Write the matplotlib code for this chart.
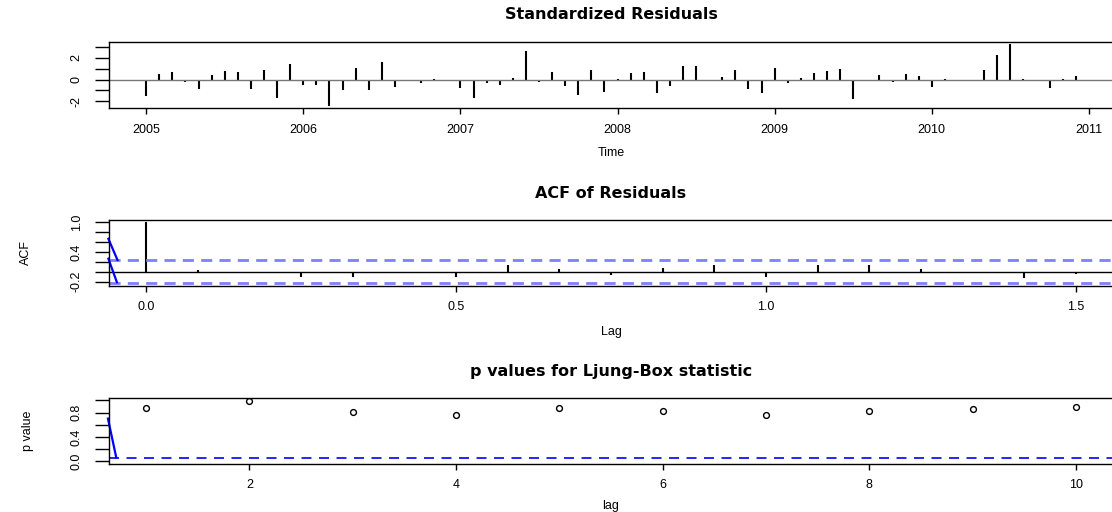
import matplotlib
matplotlib.use("Agg")
import matplotlib.pyplot as plt
import numpy as np

plt.rcParams['font.family'] = ['Liberation Sans', 'DejaVu Sans']

# standardized residuals, monthly Jan 2005 .. Dec 2010
stdres = [-1.5, 0.5, 0.7, -0.2, -0.9, 0.42, 0.8, 0.7, -0.88, 0.88, -1.7, 1.4,
          -0.48, -0.48, -2.4, -1.0, 1.03, -1.0, 1.58, -0.64, -0.08, -0.3, 0.02, -0.05,
          -0.8, -1.67, -0.3, -0.48, 0.1, 2.6, -0.2, 0.7, -0.58, -1.42, 0.88, -1.15,
          0.05, 0.64, 0.7, -1.24, -0.58, 1.24, 1.24, -0.15, 0.27, 0.88, -0.88, -1.24,
          1.06, -0.27, 0.18, 0.64, 0.82, 1.0, -1.76, 0.0, 0.42, -0.2, 0.52, 0.3,
          -0.7, 0.05, -0.05, -0.05, 0.9, 2.2, 3.23, 0.05, -0.05, -0.73, 0.05, 0.36]
start_year = 2005
year_ticks = [2005, 2006, 2007, 2008, 2009, 2010, 2011]

# ACF of residuals, lag in years (lag k = k/12)
acf_vals = [1.0, 0.026, 0.0, -0.10, -0.10, -0.025, -0.10, 0.146, 0.046, -0.066,
            0.066, 0.146, -0.10, 0.146, 0.146, 0.046, -0.026, -0.12, -0.046]
clim = 0.231
acf_xticks = [0.0, 0.5, 1.0, 1.5]

# Ljung-Box p values
lb_lags = [1, 2, 3, 4, 5, 6, 7, 8, 9, 10]
lb_p = [0.88, 0.99, 0.815, 0.765, 0.88, 0.83, 0.754, 0.83, 0.864, 0.897]
p_xticks = [2, 4, 6, 8, 10]

# stray blue strokes at the left edge of the lower panels
acf_stroke1_x = [-0.061, -0.0463]
acf_stroke1_y = [0.668, 0.237]
acf_stroke2_x = [-0.061, -0.0473]
acf_stroke2_y = [0.264, -0.213]
p_stroke_x = [0.63, 0.71]
p_stroke_y = [0.70, 0.06]

W, H = 1112, 512
fig = plt.figure(figsize=(W / 100, H / 100), dpi=100)

title_font = dict(fontsize=11.5, fontweight='bold', family=['DejaVu Sans'])


def box(left, top, right, bottom):
    return [left / W, 1 - bottom / H, (right - left) / W, (bottom - top) / H]


def style(ax):
    for s in ax.spines.values():
        s.set_linewidth(1.0)
        s.set_color('black')
    ax.tick_params(axis='x', direction='out', length=4.3, width=1.0, pad=7, labelsize=9)
    ax.tick_params(axis='y', direction='out', length=10, width=1.0, pad=9, labelsize=9)
    for lab in ax.get_yticklabels():
        lab.set_rotation(90)
        lab.set_va('center')


def ylabels(ax, ticks, shown):
    ax.set_yticks(ticks)
    ax.set_yticklabels([f"{t:g}" if t in shown else "" for t in ticks])


# --- standardized residuals
ax1 = fig.add_axes(box(109, 41.7, 1113, 108.3))
t = start_year + np.arange(len(stdres)) / 12
ax1.vlines(t, 0, stdres, color='black', lw=1.5)
ax1.axhline(0, color='#777777', lw=1.0)
lo, hi = min(stdres), max(stdres)
pad = 0.04 * (hi - lo)
ax1.set_ylim(lo - pad, hi + pad)
tp = 0.04 * (t[-1] - t[0])
ax1.set_xlim(t[0] - tp, t[-1] + tp)
ax1.set_xticks(year_ticks)
ax1.set_xticklabels([str(y) for y in year_ticks])
ylabels(ax1, [-2, -1, 0, 1, 2, 3], [-2, 0, 2])
ax1.set_xlabel('Time', fontsize=9, labelpad=8)
ax1.set_title('Standardized Residuals', pad=16, **title_font)
style(ax1)

# --- ACF
ax2 = fig.add_axes(box(109, 220, 1113, 285.5))
lags = np.arange(len(acf_vals)) / 12
ax2.vlines(lags, 0, acf_vals, color='black', lw=1.5)
ax2.axhline(0, color='black', lw=1.0)
ax2.axhline(clim, color='#7f7fff', lw=2.0, ls=(0, (4, 2.6)))
ax2.axhline(-clim, color='#7f7fff', lw=2.0, ls=(0, (4, 2.6)))
ax2.plot(acf_stroke1_x, acf_stroke1_y, color='blue', lw=1.6, clip_on=False)
ax2.plot(acf_stroke2_x, acf_stroke2_y, color='blue', lw=1.6, clip_on=False)
lo, hi = min(min(acf_vals), -clim), max(max(acf_vals), clim)
pad = 0.04 * (hi - lo)
ax2.set_ylim(lo - pad, hi + pad)
lp = 0.04 * (lags[-1] - lags[0])
ax2.set_xlim(lags[0] - lp, lags[-1] + lp)
ax2.set_xticks(acf_xticks)
ax2.set_xticklabels([f"{v:.1f}" for v in acf_xticks])
ax2.set_yticks([-0.2, 0.0, 0.2, 0.4, 0.6, 0.8, 1.0])
ax2.set_yticklabels(["-0.2", "", "", "0.4", "", "", "1.0"])
ax2.set_xlabel('Lag', fontsize=9, labelpad=9)
ax2.set_ylabel('ACF', fontsize=9, labelpad=28)
ax2.set_title('ACF of Residuals', pad=16, **title_font)
style(ax2)

# --- Ljung-Box p values
ax3 = fig.add_axes(box(109, 398, 1113, 463.5))
ax3.plot(lb_lags, lb_p, ls='none', marker='o', ms=4.2, mfc='none', mec='black', mew=1.0)
ax3.axhline(0.05, color='blue', lw=1.2, ls=(0, (6, 4.5)))
ax3.plot(p_stroke_x, p_stroke_y, color='blue', lw=1.6, clip_on=False)
ax3.set_ylim(-0.04, 1.04)
ax3.set_xlim(1 - 0.36, 10 + 0.36)
ax3.set_xticks(p_xticks)
ax3.set_xticklabels([str(v) for v in p_xticks])
ax3.set_yticks([0.0, 0.2, 0.4, 0.6, 0.8, 1.0])
ax3.set_yticklabels(["0.0", "", "0.4", "", "0.8", ""])
ax3.set_xlabel('lag', fontsize=9, labelpad=6)
ax3.set_ylabel('p value', fontsize=9, labelpad=26)
ax3.set_title('p values for Ljung-Box statistic', pad=16, **title_font)
style(ax3)

fig.savefig('out.png', dpi=100)
